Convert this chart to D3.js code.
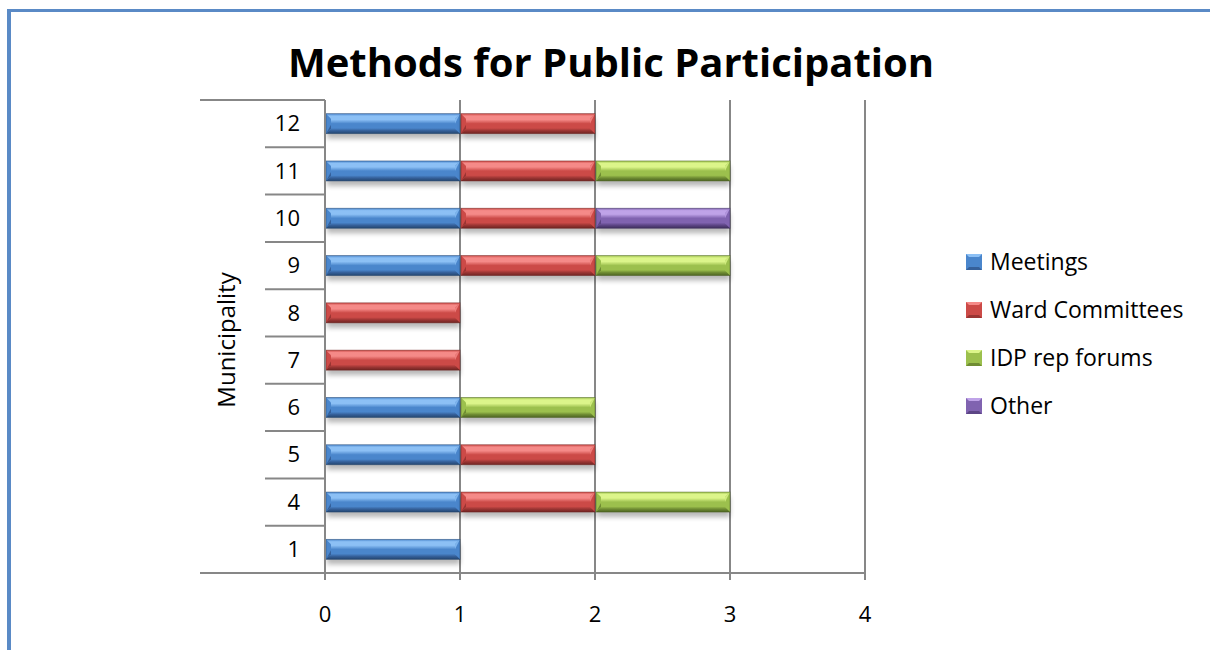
<!DOCTYPE html>
<html>
<head>
<meta charset="utf-8">
<script src="https://cdn.jsdelivr.net/npm/d3@7"></script>
<style>
  html, body { margin: 0; padding: 0; background: #fff; }
  svg { display: block; }
  text { font-family: "Open Sans", "Noto Sans", sans-serif; fill: #000; }
</style>
</head>
<body>
<svg id="chart" width="1210" height="650"></svg>
<script>
// Municipalities (bottom to top) and number of methods used per type
const categories = ["1", "4", "5", "6", "7", "8", "9", "10", "11", "12"];
const meetings       = [1, 1, 1, 1, 0, 0, 1, 1, 1, 1];
const wardCommittees = [0, 1, 1, 0, 1, 1, 1, 1, 1, 1];
const idpRepForums   = [0, 1, 0, 1, 0, 0, 1, 0, 1, 0];
const other          = [0, 0, 0, 0, 0, 0, 0, 1, 0, 0];
const seriesNames = ["Meetings", "Ward Committees", "IDP rep forums", "Other"];
const xTicks = [0, 1, 2, 3, 4];

const palette = {
  "Meetings":        { light: "#8cc0f5", mid: "#4a86cc", dark: "#35609a", edge: "#24466f" },
  "Ward Committees": { light: "#f58a88", mid: "#cc4a47", dark: "#9a3533", edge: "#6f2422" },
  "IDP rep forums":  { light: "#dcf58a", mid: "#9cc04d", dark: "#6f8c33", edge: "#4c6322" },
  "Other":           { light: "#bfa3e8", mid: "#8063b0", dark: "#5c4585", edge: "#3e2e5c" }
};

const rows = categories.map((c, i) => ({
  cat: c,
  "Meetings": meetings[i],
  "Ward Committees": wardCommittees[i],
  "IDP rep forums": idpRepForums[i],
  "Other": other[i]
}));

const svg = d3.select("#chart");
const defs = svg.append("defs");

// soft drop shadow beneath each bar
const shadow = defs.append("filter").attr("id", "shadow")
  .attr("x", "-5%").attr("y", "-50%").attr("width", "110%").attr("height", "200%");
shadow.append("feGaussianBlur").attr("stdDeviation", 2.5);

// vertical gradients giving each series its bevelled shine
seriesNames.forEach((s, i) => {
  const p = palette[s];
  const g = defs.append("linearGradient").attr("id", "grad" + i)
    .attr("x1", 0).attr("y1", 0).attr("x2", 0).attr("y2", 1);
  [[0, p.mid], [0.12, p.light], [0.3, p.light], [0.5, p.mid], [0.72, p.mid], [0.85, p.dark], [1, p.edge]]
    .forEach(([o, c]) => g.append("stop").attr("offset", o).attr("stop-color", c));
});

// outer frame
svg.append("line").attr("x1", 9).attr("x2", 1210).attr("y1", 10.5).attr("y2", 10.5)
  .attr("stroke", "#5a8ac6").attr("stroke-width", 3);
svg.append("line").attr("x1", 9).attr("x2", 9).attr("y1", 9).attr("y2", 650)
  .attr("stroke", "#5a8ac6").attr("stroke-width", 4);

// title
svg.append("text").attr("x", 611).attr("y", 77).attr("text-anchor", "middle")
  .style("font-size", "40px").style("font-weight", 700)
  .text("Methods for Public Participation");

// scales
const x = d3.scaleLinear().domain([0, 4]).range([325, 865]);
const y = d3.scaleBand().domain(categories.slice().reverse()).range([100, 573])
  .paddingInner(0.577).paddingOuter(0.2885);
const step = y.step();

const axisColor = "#878787";

// vertical gridlines with tick marks below the axis
svg.append("g").selectAll("line").data(xTicks.slice(1)).join("line")
  .attr("x1", d => x(d)).attr("x2", d => x(d))
  .attr("y1", 100).attr("y2", 580)
  .attr("stroke", axisColor).attr("stroke-width", 2);

// stacked bars
const stack = d3.stack().keys(seriesNames)(rows);
const bevel = 5;
const barLayer = svg.append("g");

stack.forEach((layer, si) => {
  const p = palette[layer.key];
  layer.forEach(seg => {
    const v = seg[1] - seg[0];
    if (v <= 0) return;
    const x0 = x(seg[0]) + 1, x1 = x(seg[1]);
    const y0 = y(seg.data.cat), h = y.bandwidth(), y1 = y0 + h;
    const g = barLayer.append("g");
    g.append("rect").attr("x", x0 + 1).attr("y", y0 + 5).attr("width", x1 - x0 - 1).attr("height", h)
      .attr("fill", "#000").attr("opacity", 0.28).attr("filter", "url(#shadow)");
    g.append("rect").attr("x", x0).attr("y", y0).attr("width", x1 - x0).attr("height", h)
      .attr("fill", `url(#grad${si})`);
    // bevelled end caps
    g.append("polygon")
      .attr("points", [[x0, y0], [x0 + bevel, y0 + bevel], [x0 + bevel, y1 - bevel], [x0, y1]].join(" "))
      .attr("fill", p.mid);
    g.append("polygon")
      .attr("points", [[x0, y1], [x0 + bevel, y1 - bevel], [x0 + bevel, y0 + h * 0.55]].join(" "))
      .attr("fill", p.dark);
    g.append("polygon")
      .attr("points", [[x1, y0], [x1 - bevel, y0 + bevel], [x1 - bevel, y1 - bevel], [x1, y1]].join(" "))
      .attr("fill", p.mid);
    g.append("polygon")
      .attr("points", [[x1, y0], [x1 - bevel, y0 + bevel], [x1 - bevel, y0 + h * 0.5]].join(" "))
      .attr("fill", p.light).attr("opacity", 0.8);
    g.append("rect").attr("x", x0).attr("y", y0).attr("width", x1 - x0).attr("height", h)
      .attr("fill", "none").attr("stroke", p.edge).attr("stroke-width", 0.8).attr("opacity", 0.6);
  });
});

// value axis baseline (x = 0) and tick
svg.append("line").attr("x1", x(0)).attr("x2", x(0)).attr("y1", 100).attr("y2", 580)
  .attr("stroke", axisColor).attr("stroke-width", 2);

// category dividers
const boundaries = d3.range(1, categories.length).map(i => 100 + i * step);
svg.append("g").selectAll("line").data(boundaries).join("line")
  .attr("x1", 265).attr("x2", x(0)).attr("y1", d => d).attr("y2", d => d)
  .attr("stroke", axisColor).attr("stroke-width", 2);
svg.append("line").attr("x1", 200).attr("x2", x(0)).attr("y1", 100).attr("y2", 100)
  .attr("stroke", axisColor).attr("stroke-width", 2);
svg.append("line").attr("x1", 200).attr("x2", x(4)).attr("y1", 573).attr("y2", 573)
  .attr("stroke", axisColor).attr("stroke-width", 2);

// category labels
svg.append("g").selectAll("text").data(categories).join("text")
  .attr("x", 300).attr("y", d => y(d) + y.bandwidth() / 2)
  .attr("dy", "0.35em").attr("text-anchor", "end")
  .style("font-size", "22px").text(d => d);

// value labels
svg.append("g").selectAll("text").data(xTicks).join("text")
  .attr("x", d => x(d)).attr("y", 614).attr("dy", "0.35em").attr("text-anchor", "middle")
  .style("font-size", "22px").text(d => d);

// axis title
svg.append("text").attr("transform", "translate(235,340) rotate(-90)")
  .attr("text-anchor", "middle").style("font-size", "24px").text("Municipality");

// legend
const legend = svg.append("g").selectAll("g").data(seriesNames).join("g")
  .attr("transform", (d, i) => `translate(966,${262 + i * 48})`);
legend.append("rect").attr("x", 0).attr("y", -8).attr("width", 16).attr("height", 16)
  .attr("fill", d => palette[d].mid);
legend.append("polygon").attr("points", "0,-8 16,-8 8,0").attr("fill", d => palette[d].light);
legend.append("polygon").attr("points", "0,8 16,8 8,0").attr("fill", d => palette[d].dark);
legend.append("rect").attr("x", 3).attr("y", -5).attr("width", 10).attr("height", 10)
  .attr("fill", d => palette[d].mid);
legend.append("text").attr("x", 24).attr("y", 0).attr("dy", "0.35em")
  .style("font-size", "23px").text(d => d);
</script>
</body>
</html>
